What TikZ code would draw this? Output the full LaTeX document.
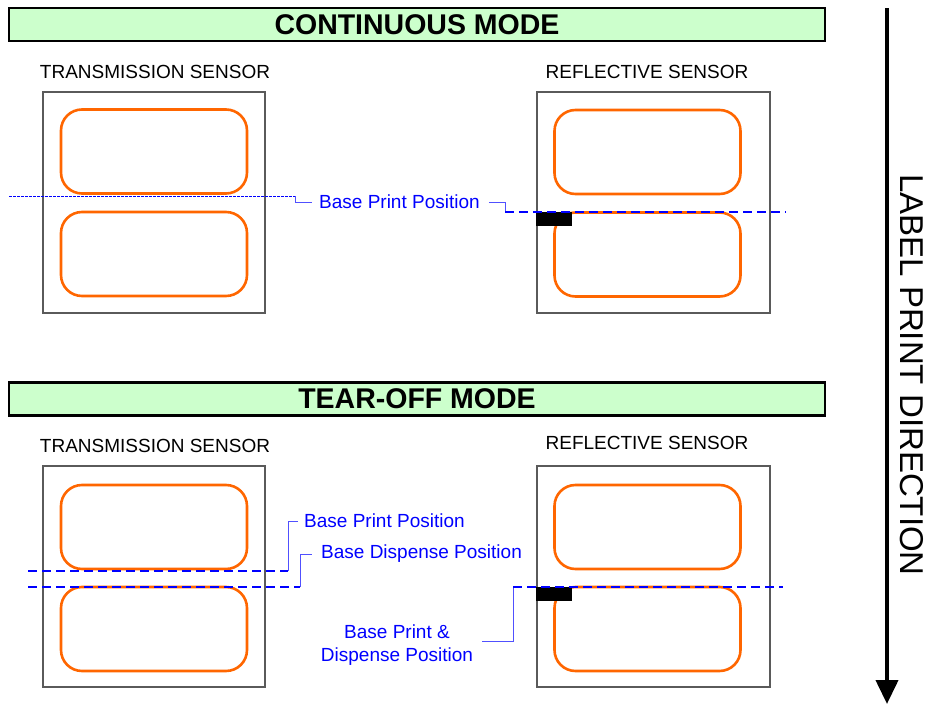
\documentclass[tikz,border=0pt]{standalone}
\usepackage{fontspec}
\setmainfont{Liberation Sans}
\usetikzlibrary{arrows.meta}
\definecolor{titlegreen}{RGB}{204,255,204}
\definecolor{lblorange}{RGB}{255,102,0}
\definecolor{boxgray}{RGB}{90,90,90}
\definecolor{leaderblue}{RGB}{80,80,255}
\begin{document}
\begin{tikzpicture}[x=1pt,y=-1pt,
  titlebar/.style={draw=black,line width=2.5pt,fill=titlegreen,minimum width=816pt,minimum height=33pt,inner sep=0pt,font=\fontsize{28.5}{30}\selectfont\bfseries},
  sensorlbl/.style={inner sep=0pt,font=\fontsize{19}{21}\selectfont},
  sensorbox/.style={draw=boxgray,line width=1.2pt,minimum height=221pt,inner sep=0pt},
  labelrect/.style={draw=lblorange,line width=2.6pt,rounded corners=21pt,minimum width=186pt,minimum height=84pt,inner sep=0pt},
  bluetxt/.style={inner sep=0pt,text=blue,font=\fontsize{19}{23}\selectfont,align=center},
  dashline/.style={draw=blue,line width=1.8pt,dash pattern=on 9pt off 5pt},
  fineline/.style={draw=blue,line width=1pt,dash pattern=on 3pt off 1pt},
  leader/.style={draw=leaderblue,line width=1pt},
  markrect/.style={fill=black,minimum width=36pt,minimum height=14pt,inner sep=0pt},
]
\useasboundingbox (0,0) rectangle (930,704);

% ---------------- CONTINUOUS MODE ----------------
\node[titlebar] (t1) at (417,24.5) {CONTINUOUS MODE};
\node[sensorlbl] (s1) at (155,72) {TRANSMISSION SENSOR};
\node[sensorlbl] (s2) at (647,72) {REFLECTIVE SENSOR};

\node[sensorbox,minimum width=222pt] (b1) at (154,202.5) {};
\node[sensorbox,minimum width=233pt] (b2) at (653.5,202.5) {};

\node[labelrect] (l1a) at (154,151.5) {};
\node[labelrect] (l1b) at (154,254) {};
\node[labelrect] (l2a) at (647.5,152) {};
\node[labelrect] (l2b) at (647.5,254.5) {};

\node[markrect] (m1) at (554,219) {};

\node[bluetxt,anchor=west] (bp1) at (319,202) {Base Print Position};

\coordinate (c1a) at (9,196);
\coordinate (c1b) at (295,196);
\draw[fineline] (c1a) -- (c1b);
\draw[leader] (c1b) |- ([xshift=-7pt]bp1.west);

\coordinate (c2a) at (505,212);
\coordinate (c2b) at (786,212);
\draw[leader] ([xshift=9pt]bp1.east) -| (c2a);
\draw[dashline] (c2a) -- (c2b);

% ---------------- TEAR-OFF MODE ----------------
\node[titlebar] (t2) at (417,399) {TEAR-OFF MODE};
\node[sensorlbl] (s3) at (155,446) {TRANSMISSION SENSOR};
\node[sensorlbl] (s4) at (647,443) {REFLECTIVE SENSOR};

\node[sensorbox,minimum width=222pt] (b3) at (154,576.5) {};
\node[sensorbox,minimum width=233pt] (b4) at (653.5,576.5) {};

\node[labelrect] (l3a) at (154,527) {};
\node[labelrect] (l3b) at (154,629) {};
\node[labelrect] (l4a) at (647.5,527) {};
\node[labelrect] (l4b) at (647.5,629) {};

\node[markrect] (m2) at (554,594) {};

\node[bluetxt,anchor=west] (bp2) at (304,521) {Base Print Position};
\node[bluetxt,anchor=west] (bd2) at (321,554) {Base Dispense Position};
\node[bluetxt] (bpd) at (397,645) {Base Print \&\\Dispense Position};

\coordinate (d1a) at (28,571);
\coordinate (d1b) at (288,571);
\draw[dashline] (d1a) -- (d1b);
\draw[leader] (d1b) |- ([xshift=-6pt]bp2.west);

\coordinate (d2a) at (28,587);
\coordinate (d2b) at (300,587);
\draw[dashline] (d2a) -- (d2b);
\draw[leader] (d2b) |- ([xshift=-9pt]bd2.west);

\coordinate (d3a) at (513,587);
\coordinate (d3b) at (783,587);
\draw[leader] ([xshift=9pt,yshift=4pt]bpd.east |- bpd.center) -| (d3a);
\draw[dashline] (d3a) -- (d3b);

% ---------------- direction arrow ----------------
\coordinate (a1) at (887,8);
\coordinate (a2) at (887,704);
\draw[line width=4pt,-{Triangle[width=22pt,length=24pt]}] (a1) -- (a2);
\node[inner sep=0pt,rotate=-90,font=\fontsize{33}{35}\selectfont] (dir) at (912,375) {LABEL PRINT DIRECTION};
\end{tikzpicture}
\end{document}
